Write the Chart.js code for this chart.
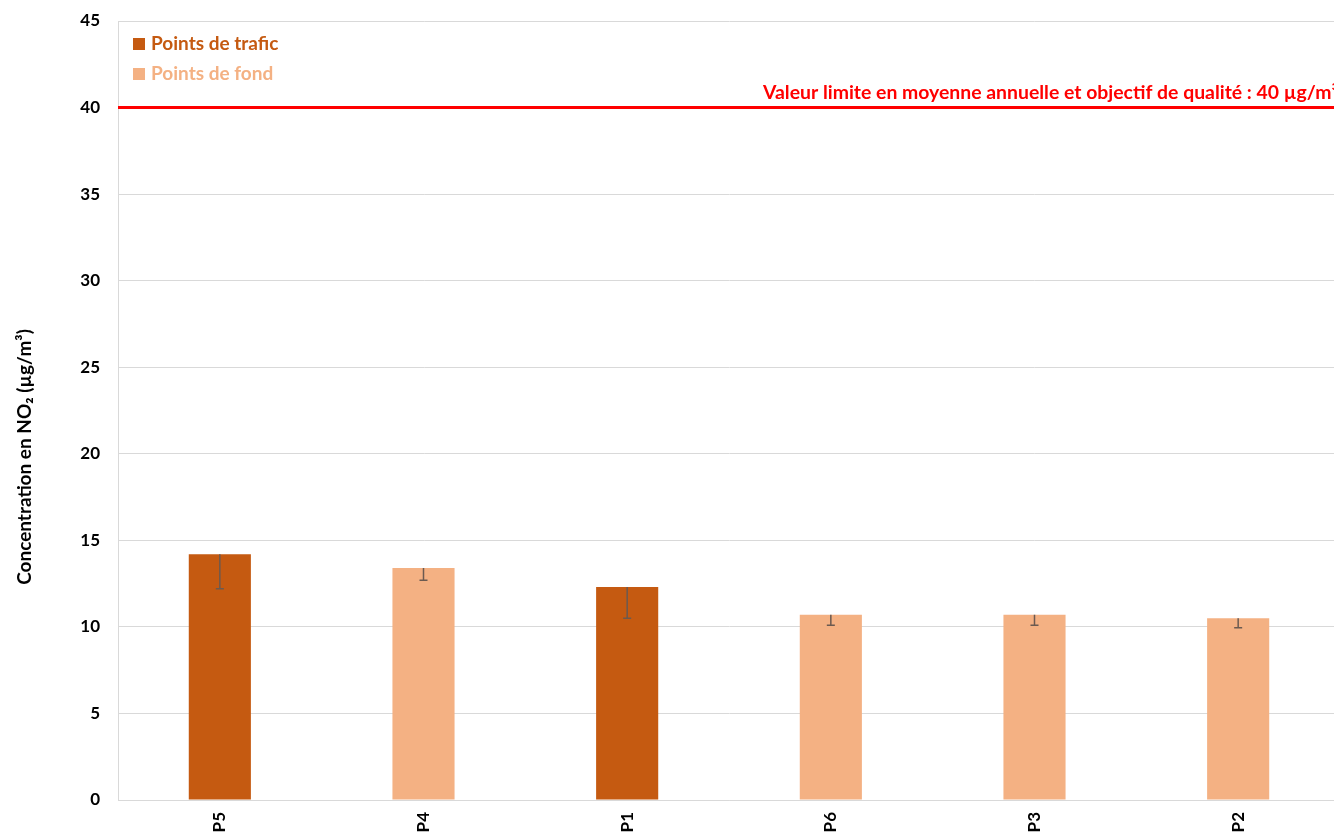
<!DOCTYPE html>
<html>
<head>
<meta charset="utf-8">
<script src="https://cdn.jsdelivr.net/npm/chart.js@4/dist/chart.umd.min.js"></script>
<style>
  html, body { margin: 0; padding: 0; background: #fff; overflow: hidden; }
  #wrap { width: 1334px; height: 837px; overflow: hidden; }
</style>
</head>
<body>
<div id="wrap"><canvas id="no2Chart" width="1340" height="837"></canvas></div>
<script>
// données
const sites = ['P5', 'P4', 'P1', 'P6', 'P3', 'P2'];
const trafic = [14.2, null, 12.3, null, null, null];
const fond = [null, 13.4, null, 10.7, 10.7, 10.5];
const erreurBasse = [2.0, 0.7, 1.8, 0.6, 0.6, 0.55];
const yTicks = [0, 5, 10, 15, 20, 25, 30, 35, 40, 45];
const valeurLimite = 40;
const texteLimite = 'Valeur limite en moyenne annuelle et objectif de qualité : 40 µg/m³';
const titreY = 'Concentration en NO₂ (µg/m³)';

const FONT = 'Lato, "Open Sans", sans-serif';
const couleurTrafic = '#C55A11';
const couleurFond = '#F4B183';

// barres d'erreur (partie basse seulement)
const errorBars = {
    id: 'errorBars',
    afterDatasetsDraw(chart) {
        const ctx = chart.ctx;
        const y = chart.scales.y;
        ctx.save();
        ctx.strokeStyle = '#6b5a50';
        ctx.lineWidth = 1.5;
        chart.data.datasets.forEach((ds, di) => {
            const meta = chart.getDatasetMeta(di);
            meta.data.forEach((bar, i) => {
                const v = ds.data[i];
                if (v == null) return;
                const x = bar.x;
                const y0 = y.getPixelForValue(v);
                const y1 = y.getPixelForValue(v - erreurBasse[i]);
                ctx.beginPath();
                ctx.moveTo(x, y0);
                ctx.lineTo(x, y1);
                ctx.moveTo(x - 4, y1);
                ctx.lineTo(x + 4, y1);
                ctx.stroke();
            });
        });
        ctx.restore();
    }
};

// ligne de la valeur limite + légende + étiquettes X + titre Y
const decor = {
    id: 'decor',
    afterDraw(chart) {
        const ctx = chart.ctx;
        const area = chart.chartArea;
        const y = chart.scales.y;
        const x = chart.scales.x;
        ctx.save();

        const yl = y.getPixelForValue(valeurLimite);
        ctx.strokeStyle = '#FF0000';
        ctx.lineWidth = 3;
        ctx.beginPath();
        ctx.moveTo(area.left, yl);
        ctx.lineTo(area.right, yl);
        ctx.stroke();

        ctx.fillStyle = '#FF0000';
        ctx.font = 'bold 19.4px ' + FONT;
        ctx.textAlign = 'right';
        ctx.textBaseline = 'alphabetic';
        ctx.fillText(texteLimite, 1338, yl - 9);

        // légende
        ctx.textAlign = 'left';
        ctx.textBaseline = 'middle';
        chart.data.datasets.forEach((ds, i) => {
            const ly = 44 + i * 30;
            ctx.fillStyle = ds.backgroundColor;
            ctx.fillRect(133, ly - 6, 12, 12);
            ctx.font = 'bold 19px ' + FONT;
            ctx.fillText(ds.label, 151, ly);
        });

        // étiquettes de l'axe X, lues de bas en haut
        ctx.fillStyle = '#000';
        ctx.font = 'bold 17px ' + FONT;
        ctx.textAlign = 'right';
        ctx.textBaseline = 'middle';
        sites.forEach((s, i) => {
            const px = x.getPixelForValue(i);
            ctx.save();
            ctx.translate(px, area.bottom + 12);
            ctx.rotate(-Math.PI / 2);
            ctx.fillText(s, 0, 0);
            ctx.restore();
        });

        // titre de l'axe Y
        ctx.font = 'bold 19px ' + FONT;
        ctx.textAlign = 'center';
        ctx.save();
        ctx.translate(25, 457);
        ctx.rotate(-Math.PI / 2);
        ctx.fillText(titreY, 0, 0);
        ctx.restore();

        ctx.restore();
    }
};

const ctx = document.getElementById('no2Chart').getContext('2d');
new Chart(ctx, {
    type: 'bar',
    data: {
        labels: sites,
        datasets: [
            { label: 'Points de trafic', data: trafic, backgroundColor: couleurTrafic },
            { label: 'Points de fond', data: fond, backgroundColor: couleurFond }
        ]
    },
    options: {
        responsive: false,
        animation: false,
        grouped: false,
        categoryPercentage: 1,
        barPercentage: 0.305,
        layout: { padding: { top: 21, right: 0, left: 0, bottom: 0 } },
        plugins: {
            legend: { display: false },
            tooltip: { enabled: false }
        },
        scales: {
            x: {
                grid: { display: false },
                border: { color: '#d9d9d9', width: 1 },
                ticks: { display: false },
                afterFit(scale) { scale.height = 37; }
            },
            y: {
                min: 0,
                max: 45,
                afterBuildTicks(scale) {
                    scale.ticks = yTicks.map(v => ({ value: v }));
                },
                grid: { color: '#d9d9d9', lineWidth: 1, drawTicks: false },
                border: { color: '#d9d9d9', width: 1 },
                ticks: {
                    color: '#000',
                    padding: 18,
                    font: { family: FONT, size: 17, weight: 'bold' }
                },
                afterFit(scale) {
                    scale.width = 118;
                    scale.paddingTop = 0;
                    scale.paddingBottom = 0;
                }
            }
        }
    },
    plugins: [errorBars, decor]
});
</script>
</body>
</html>
